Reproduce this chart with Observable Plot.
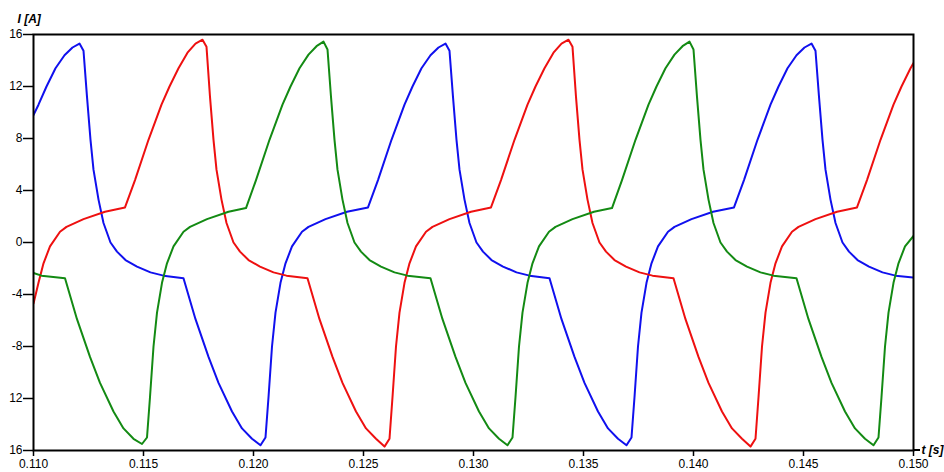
<!DOCTYPE html>
<html>
<head>
<meta charset="utf-8">
<script src="https://cdn.jsdelivr.net/npm/d3@7"></script>
<script src="https://cdn.jsdelivr.net/npm/@observablehq/plot@0.6"></script>
<style>
  html, body { margin: 0; padding: 0; background: #fff; }
  svg { display: block; }
</style>
</head>
<body>
<div id="chart"></div>
<script>
// time in milliseconds, current in amperes
const tBlue = [110.000,110.227,110.591,111.000,111.409,111.773,112.091,112.273,112.432,112.591,112.727,112.955,113.182,113.500,113.795,114.182,114.705,115.318,115.909,116.818,117.364,117.955,118.409,119.023,119.477,119.932,120.318,120.545,120.682,120.841,121.000,121.227,121.455,121.750,122.205,122.500,123.273,124.250,125.205,125.659,126.273,126.864,127.227,127.636,128.045,128.409,128.727,128.909,129.068,129.227,129.364,129.591,129.818,130.136,130.432,130.818,131.341,131.955,132.545,133.455,134.000,134.591,135.045,135.659,136.114,136.568,136.955,137.182,137.318,137.477,137.636,137.864,138.091,138.386,138.841,139.136,139.909,140.886,141.841,142.295,142.909,143.500,143.864,144.273,144.682,145.045,145.364,145.545,145.705,145.864,146.000,146.227,146.455,146.773,147.068,147.455,147.977,148.591,149.182,150.000];
const iBlue = [9.8,10.6,12.0,13.4,14.4,15.0,15.3,14.75,11.2,7.9,5.6,3.3,1.5,0,-0.7,-1.35,-1.85,-2.3,-2.55,-2.75,-5.9,-8.8,-10.8,-13.0,-14.3,-15.1,-15.6,-15.0,-11.9,-8.0,-5.4,-3.1,-1.6,-0.3,0.83,1.2,1.8,2.37,2.7,4.8,7.9,10.6,12.0,13.4,14.4,15.0,15.3,14.75,11.2,7.9,5.6,3.3,1.5,0,-0.7,-1.35,-1.85,-2.3,-2.55,-2.75,-5.9,-8.8,-10.8,-13.0,-14.3,-15.1,-15.6,-15.0,-11.9,-8.0,-5.4,-3.1,-1.6,-0.3,0.83,1.2,1.8,2.37,2.7,4.8,7.9,10.6,12.0,13.4,14.4,15.0,15.3,14.75,11.2,7.9,5.6,3.3,1.5,0,-0.7,-1.35,-1.85,-2.3,-2.55,-2.7];

const tRed = [110.000,110.227,110.455,110.750,111.205,111.500,112.273,113.250,114.159,114.614,115.227,115.818,116.182,116.591,117.000,117.364,117.682,117.864,118.023,118.182,118.318,118.545,118.773,119.091,119.386,119.773,120.295,120.909,121.500,122.455,123.000,123.591,124.045,124.659,125.114,125.568,125.955,126.182,126.318,126.477,126.636,126.864,127.091,127.386,127.841,128.136,128.909,129.886,130.795,131.250,131.864,132.455,132.818,133.227,133.636,134.000,134.318,134.500,134.659,134.818,134.955,135.182,135.409,135.727,136.023,136.409,136.932,137.545,138.136,139.091,139.636,140.227,140.682,141.295,141.750,142.205,142.591,142.818,142.955,143.114,143.273,143.500,143.727,144.023,144.477,144.773,145.545,146.523,147.432,147.886,148.500,149.091,149.455,149.864,150.000];
const iRed = [-4.7,-3.1,-1.6,-0.3,0.83,1.2,1.8,2.37,2.7,4.8,7.9,10.6,12.0,13.4,14.6,15.3,15.6,15.05,11.2,7.9,5.6,3.3,1.5,0,-0.7,-1.35,-1.85,-2.3,-2.55,-2.75,-5.9,-8.8,-10.8,-13.0,-14.3,-15.1,-15.7,-15.1,-11.9,-8.0,-5.4,-3.1,-1.6,-0.3,0.83,1.2,1.8,2.37,2.7,4.8,7.9,10.6,12.0,13.4,14.6,15.3,15.6,15.05,11.2,7.9,5.6,3.3,1.5,0,-0.7,-1.35,-1.85,-2.3,-2.55,-2.75,-5.9,-8.8,-10.8,-13.0,-14.3,-15.1,-15.7,-15.1,-11.9,-8.0,-5.4,-3.1,-1.6,-0.3,0.83,1.2,1.8,2.37,2.7,4.8,7.9,10.6,12.0,13.4,13.8];

const tGreen = [110.000,110.364,111.432,111.977,112.568,113.023,113.636,114.091,114.545,114.932,115.159,115.295,115.455,115.614,115.841,116.068,116.364,116.818,117.114,117.886,118.864,119.659,120.114,120.727,121.318,121.682,122.091,122.500,122.864,123.182,123.364,123.523,123.682,123.818,124.045,124.273,124.591,124.886,125.273,125.795,126.409,127.000,128.045,128.591,129.182,129.636,130.250,130.705,131.159,131.545,131.773,131.909,132.068,132.227,132.455,132.682,132.977,133.432,133.727,134.500,135.477,136.295,136.750,137.364,137.955,138.318,138.727,139.136,139.500,139.818,140.000,140.159,140.318,140.455,140.682,140.909,141.227,141.523,141.909,142.432,143.045,143.636,144.682,145.227,145.818,146.273,146.886,147.341,147.795,148.182,148.409,148.545,148.705,148.864,149.091,149.318,149.614,150.000];
const iGreen = [-2.35,-2.55,-2.75,-5.9,-8.8,-10.8,-13.0,-14.3,-15.1,-15.5,-15.0,-11.9,-8.0,-5.4,-3.1,-1.6,-0.3,0.83,1.2,1.8,2.37,2.65,4.8,7.9,10.6,12.0,13.4,14.45,15.1,15.45,14.85,11.2,7.9,5.6,3.3,1.5,0,-0.7,-1.35,-1.85,-2.3,-2.55,-2.75,-5.9,-8.8,-10.8,-13.0,-14.3,-15.1,-15.6,-15.0,-11.9,-8.0,-5.4,-3.1,-1.6,-0.3,0.83,1.2,1.8,2.37,2.65,4.8,7.9,10.6,12.0,13.4,14.45,15.1,15.45,14.85,11.2,7.9,5.6,3.3,1.5,0,-0.7,-1.35,-1.85,-2.3,-2.55,-2.75,-5.9,-8.8,-10.8,-13.0,-14.3,-15.1,-15.6,-15.0,-11.9,-8.0,-5.4,-3.1,-1.6,-0.3,0.5];

const xTicks = [0.110,0.115,0.120,0.125,0.130,0.135,0.140,0.145,0.150];
const yTicks = [16,12,8,4,0,-4,-8,-12,-16];
const yTickLabels = ["16","12","8","4","0","-4","-8","12","16"];

const colors = {blue: "#1010ee", red: "#ee1010", green: "#138a13"};

const toRows = (ts, is) => ts.map((t, k) => ({t: t / 1000, i: is[k]}));
const blue = toRows(tBlue, iBlue);
const red = toRows(tRed, iRed);
const green = toRows(tGreen, iGreen);

const font = "Liberation Sans, Arial, Helvetica, sans-serif";

const chart = Plot.plot({
  width: 944,
  height: 472,
  marginLeft: 33,
  marginRight: 31,
  marginTop: 34,
  marginBottom: 22,
  style: {fontFamily: font, fontSize: "12px", background: "#fff", color: "#000", overflow: "visible"},
  x: {domain: [0.110, 0.150]},
  y: {domain: [-16, 16]},
  marks: [
    Plot.line(blue, {x: "t", y: "i", stroke: colors.blue, strokeWidth: 2, clip: true}),
    Plot.line(red, {x: "t", y: "i", stroke: colors.red, strokeWidth: 2, clip: true}),
    Plot.line(green, {x: "t", y: "i", stroke: colors.green, strokeWidth: 2, clip: true}),
    Plot.frame({stroke: "#000", strokeWidth: 2}),
    Plot.axisX({ticks: xTicks, tickFormat: d3.format(".3f"), tickSize: 6, tickPadding: 3, strokeWidth: 1.5, fontSize: 12, label: null}),
    Plot.axisY({ticks: yTicks, tickFormat: d => yTickLabels[yTicks.indexOf(d)], tickSize: 10, tickPadding: 1, strokeWidth: 1.5, fontSize: 12, label: null}),
    Plot.text(["I [A]"], {frameAnchor: "top-left", dx: -16, dy: -12, textAnchor: "start", lineAnchor: "bottom", fontWeight: "bold", fontStyle: "italic", fontSize: 12}),
    Plot.text(["t [s]"], {frameAnchor: "bottom-right", dx: 8, dy: 0, textAnchor: "start", lineAnchor: "middle", fontWeight: "bold", fontStyle: "italic", fontSize: 12})
  ]
});

// short extension of the time axis past the right border
const sx = chart.scale("x"), sy = chart.scale("y");
d3.select(chart).append("line")
  .attr("x1", sx.apply(0.150)).attr("x2", sx.apply(0.150) + 7)
  .attr("y1", sy.apply(-16)).attr("y2", sy.apply(-16))
  .attr("stroke", "#000").attr("stroke-width", 2);

document.getElementById("chart").append(chart);
</script>
</body>
</html>
